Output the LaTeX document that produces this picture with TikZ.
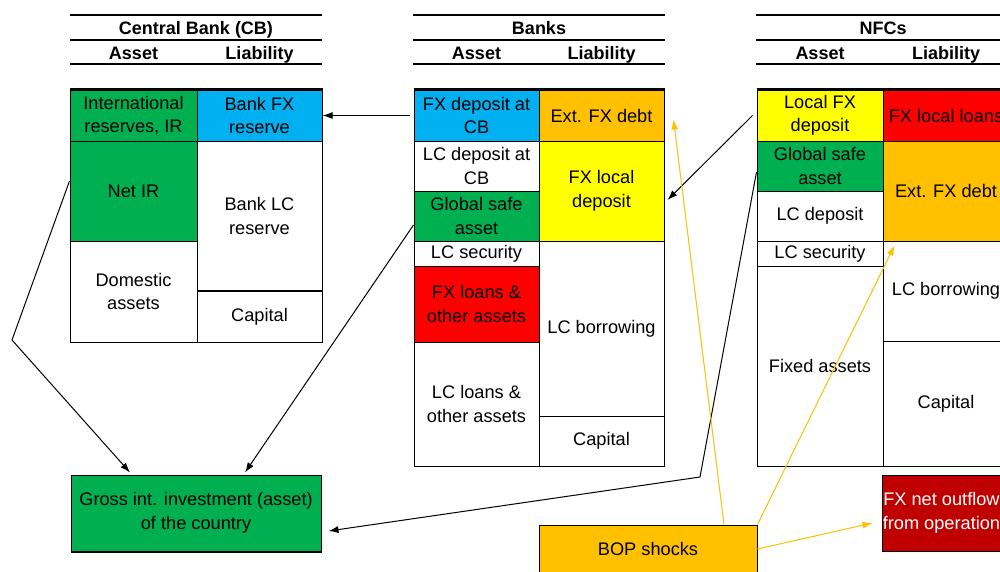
\documentclass[tikz,border=0pt]{standalone}
\usepackage{fontspec}
\setmainfont{Liberation Sans}
\usetikzlibrary{arrows.meta}
\definecolor{cgreen}{HTML}{00B050}
\definecolor{cblue}{HTML}{00B0F0}
\definecolor{cyellow}{HTML}{FFFF00}
\definecolor{corange}{HTML}{FFC000}
\definecolor{cred}{HTML}{FF0000}
\definecolor{cdred}{HTML}{C00000}
\tikzset{
  cell/.style={draw=black, line width=1pt, inner sep=0pt, align=center, text=black,
    font=\fontsize{18.2}{23.5}\selectfont},
  hdr/.style={inner sep=0pt, anchor=base, font=\fontsize{18}{22}\selectfont\bfseries},
  hline/.style={line width=1.4pt},
  topline/.style={line width=2.2pt},
  arr/.style={-{Latex[length=10pt,width=7pt]}, line width=1pt, draw=black},
  oarr/.style={-{Latex[length=10pt,width=7pt]}, line width=1pt, draw=corange, color=corange},
}
\newcommand\cellbox[7]{%
  \node[cell, fill=#6, minimum width={(#4-#2)*1pt}, minimum height={(#5-#3)*1pt}] (#1) at ({(#2+#4)/2},{(#3+#5)/2}) {#7};}
\begin{document}
\begin{tikzpicture}[x=1pt,y=-1pt]
\useasboundingbox (0,0) rectangle (1000,571);
\clip (0,0) rectangle (1000,571);
\fill[white] (0,0) rectangle (1000,571);

% ---------- headers ----------
\foreach \a/\b in {70/322, 413/665, 756/1009}{
  \draw[hline] (\a,15) -- (\b,15);
  \draw[hline] (\a,40) -- (\b,40);
  \draw[hline] (\a,64) -- (\b,64);
}
\node[hdr] (cbt) at (196,34) {Central Bank (CB)};
\node[hdr] (cba) at (133.5,59) {Asset};
\node[hdr] (cbl) at (259.5,59) {Liability};
\node[hdr] (bkt) at (539,34) {Banks};
\node[hdr] (bka) at (476.5,59) {Asset};
\node[hdr] (bkl) at (601.5,59) {Liability};
\node[hdr] (nft) at (883,34) {NFCs};
\node[hdr] (nfa) at (820,59) {Asset};
\node[hdr] (nfl) at (946,59) {Liability};

% ---------- Central bank ----------
\cellbox{cbir}{70}{90}{197}{141}{cgreen}{International\\reserves, IR}
\cellbox{cbnet}{70}{141}{197}{241}{cgreen}{Net IR}
\cellbox{cbdom}{70}{241}{197}{342}{white}{Domestic\\assets}
\cellbox{cbfx}{197}{90}{322}{141}{cblue}{Bank FX\\reserve}
\cellbox{cblc}{197}{141}{322}{291}{white}{Bank LC\\reserve}
\cellbox{cbcap}{197}{291}{322}{342}{white}{Capital}
\draw[topline] (cbir.north west) -- (cbfx.north east);
\draw[line width=2pt] (cbcap.north west) -- (cbcap.north east);

% ---------- Banks ----------
\cellbox{bfx}{414}{90}{539}{141}{cblue}{FX deposit at\\CB}
\cellbox{blc}{414}{141}{539}{191}{white}{LC deposit at\\CB}
\cellbox{bgsa}{414}{191}{539}{241}{cgreen}{Global safe\\asset}
\cellbox{bsec}{414}{241}{539}{266}{white}{LC security}
\cellbox{bfxl}{414}{266}{539}{342}{cred}{FX loans \&\\other assets}
\cellbox{blcl}{414}{342}{539}{466}{white}{LC loans \&\\other assets}
\cellbox{bext}{539}{90}{664}{141}{corange}{Ext. FX debt}
\cellbox{bfxd}{539}{141}{664}{241}{cyellow}{FX local\\deposit}
\cellbox{bbor}{539}{241}{664}{416}{white}{LC borrowing}
\cellbox{bcap}{539}{416}{664}{466}{white}{Capital}
\draw[topline] (bfx.north west) -- (bext.north east);

% ---------- NFCs ----------
\cellbox{nlfx}{757}{90}{883}{141}{cyellow}{Local FX\\deposit}
\cellbox{ngsa}{757}{141}{883}{191}{cgreen}{Global safe\\asset}
\cellbox{nlcd}{757}{191}{883}{241}{white}{LC deposit}
\cellbox{nsec}{757}{241}{883}{266}{white}{LC security}
\cellbox{nfix}{757}{266}{883}{466}{white}{Fixed assets}
\cellbox{nfxl}{883}{90}{1009}{141}{cred}{FX local loans}
\cellbox{next}{883}{141}{1009}{241}{corange}{Ext. FX debt}
\cellbox{nbor}{883}{241}{1009}{341}{white}{LC borrowing}
\cellbox{ncap}{883}{341}{1009}{466}{white}{Capital}
\draw[topline] (nlfx.north west) -- (nfxl.north east);

% ---------- bottom boxes ----------
\cellbox{gross}{71}{475}{321}{551}{cgreen}{Gross int. investment (asset)\\of the country}
\draw[line width=2pt] (gross.south west) -- (gross.south east);
\cellbox{bop}{539}{525}{757}{573}{corange}{BOP shocks}
\cellbox{fxout}{882}{475}{1010}{551}{cdred}{\textcolor{white}{FX net outflows}\\\textcolor{white}{from operations}}

% ---------- connectors ----------
\coordinate (k1) at (12,340);
\coordinate (k2) at (700,477);
\draw[arr] ([xshift=-4pt]bfx.west) -- (cbfx.east);
\draw[arr] ([yshift=10pt]cbnet.west) -- (k1) -- ([xshift=-66pt,yshift=2pt]gross.north);
\draw[arr] ([yshift=-9pt]bgsa.west) -- ([xshift=49pt,yshift=2pt]gross.north);
\draw[arr] ([xshift=-4pt]nlfx.west) -- ([xshift=3pt,yshift=-9pt]bfxd.east);
\draw[arr] ([yshift=-6pt]ngsa.west) -- (k2) -- ([xshift=7pt,yshift=-18pt]gross.east);

\draw[oarr] ([xshift=76pt]bop.north) -- ([xshift=9pt,yshift=-4pt]bext.east);
\draw[oarr] (bop.north east) -- ([xshift=12pt,yshift=-4pt]next.south west);
\draw[oarr] (bop.east) -- ([xshift=-9pt,yshift=-10pt]fxout.west);
\end{tikzpicture}
\end{document}
